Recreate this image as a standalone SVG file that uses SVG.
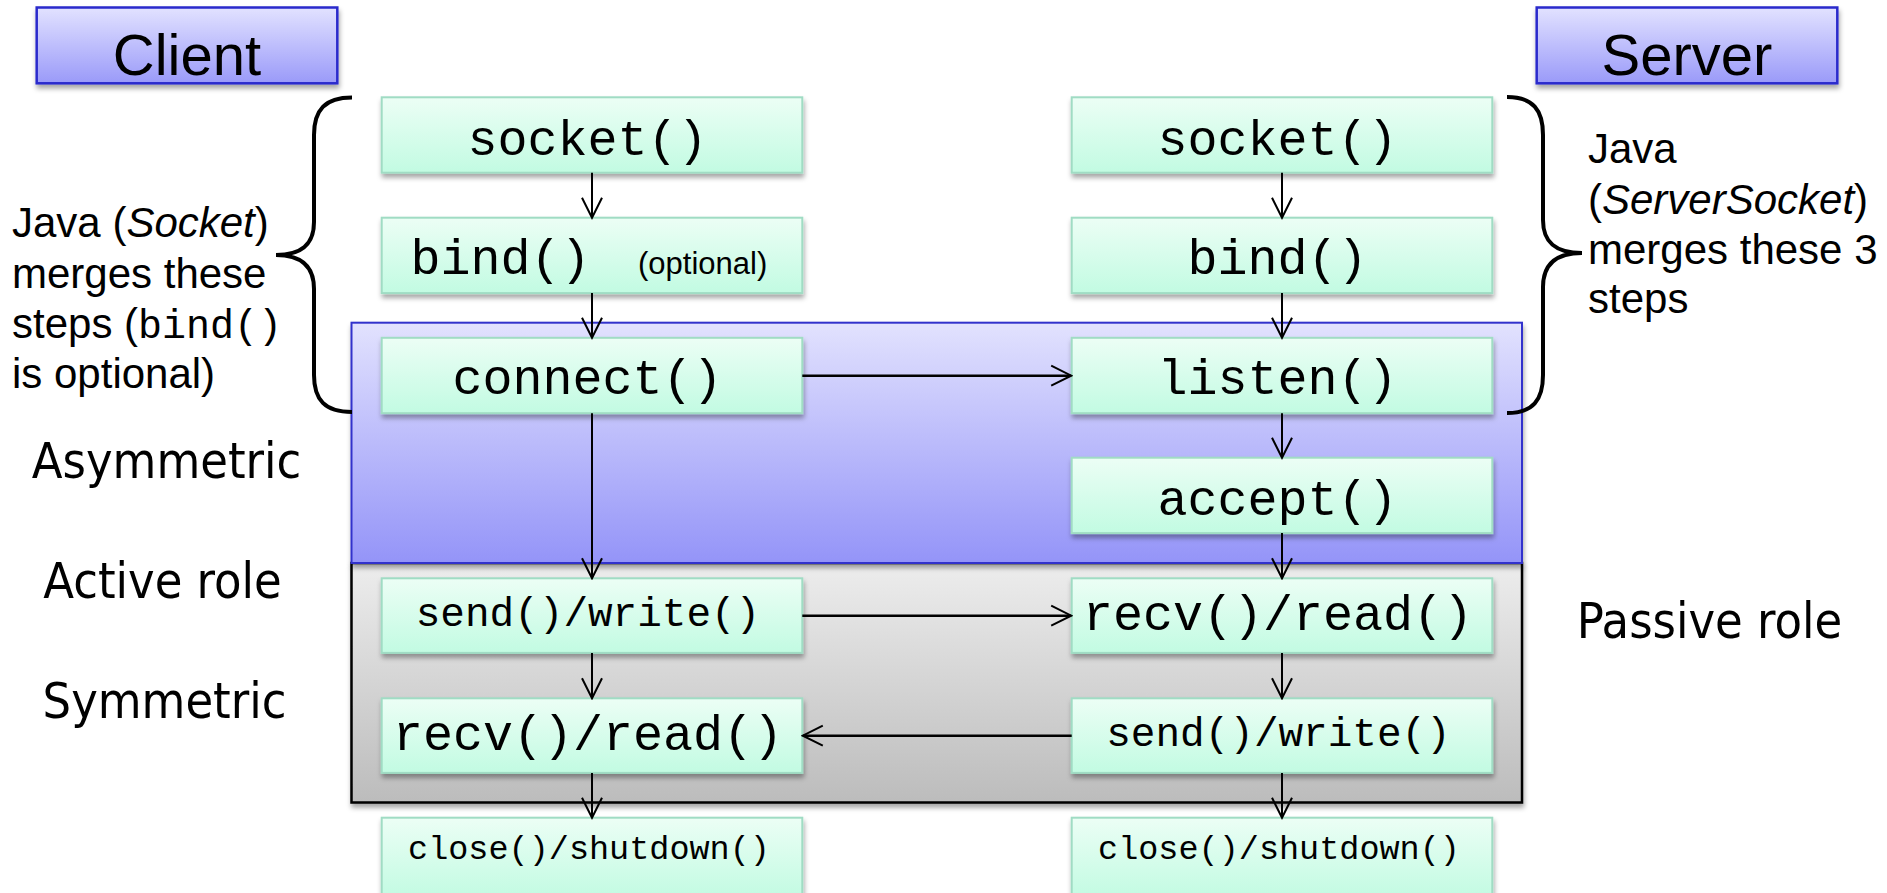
<svg xmlns="http://www.w3.org/2000/svg" width="1887" height="893" viewBox="0 0 1887 893">
  <defs>
    <linearGradient id="gGreen" x1="0" y1="0" x2="0" y2="1">
      <stop offset="0" stop-color="#ecfef5"/>
      <stop offset="1" stop-color="#c2fbe2"/>
    </linearGradient>
    <linearGradient id="gHead" x1="0" y1="0" x2="0" y2="1">
      <stop offset="0" stop-color="#e2e2ff"/>
      <stop offset="1" stop-color="#9a9af9"/>
    </linearGradient>
    <linearGradient id="gBlue" x1="0" y1="0" x2="0" y2="1">
      <stop offset="0" stop-color="#e2e2fe"/>
      <stop offset="1" stop-color="#9494f8"/>
    </linearGradient>
    <linearGradient id="gGray" x1="0" y1="0" x2="0" y2="1">
      <stop offset="0" stop-color="#ededed"/>
      <stop offset="1" stop-color="#bcbcbc"/>
    </linearGradient>
    <filter id="shadow" x="-5%" y="-10%" width="110%" height="130%">
      <feDropShadow dx="1" dy="4" stdDeviation="2.5" flood-color="#000" flood-opacity="0.35"/>
    </filter>
    <marker id="arr" viewBox="-22 -12 24 24" markerWidth="24" markerHeight="24" refX="0" refY="0" orient="auto" markerUnits="userSpaceOnUse">
      <path d="M-20,-10 L0,0 L-20,10" fill="none" stroke="#000" stroke-width="2"/>
    </marker>
  </defs>
  <style>
    .step { fill: url(#gGreen); stroke: #a0dcc4; stroke-width: 2; filter: url(#shadow); }
    .head { fill: url(#gHead); stroke: #2a2acc; stroke-width: 2.5; filter: url(#shadow); }
    .mono { font-family: "Liberation Mono", "Courier New", monospace; fill: #000; text-anchor: middle; }
    .sans { font-family: "Liberation Sans", Arial, sans-serif; fill: #000; }
    .tah { font-family: "DejaVu Sans Condensed", "DejaVu Sans", "Noto Sans", sans-serif; font-stretch: condensed; fill: #000; font-size: 50px; }
    .brace { fill: none; stroke: #000; stroke-width: 4; }
    .conn line { stroke: #000; stroke-width: 2; marker-end: url(#arr); }
    .conn line.h { stroke-width: 2.6; }
  </style>

  <rect width="1887" height="893" fill="#fff"/>

  <!-- phase regions -->
  <g id="symmetric-region">
    <rect x="351.5" y="563" width="1170.5" height="239.5" fill="url(#gGray)" stroke="#000" stroke-width="2.5" filter="url(#shadow)"/>
  </g>
  <g id="asymmetric-region">
    <rect x="351.5" y="322.7" width="1170.5" height="240.3" fill="url(#gBlue)" stroke="#3333cc" stroke-width="2" filter="url(#shadow)"/>
  </g>

  <!-- braces grouping the setup steps -->
  <g id="client-brace">
    <path class="brace" d="M352,97.5 C325,97.5 314,110 314,135 L314,222 C314,245 301,255 276,255 C301,255 314,266 314,289 L314,375 C314,400 325,412 352,412"/>
  </g>
  <g id="server-brace">
    <path class="brace" d="M1507,97 C1533,97 1543,110 1543,135 L1543,220 C1543,243 1556,253 1582,253 C1556,253 1543,264 1543,287 L1543,375 C1543,400 1533,413 1507,413"/>
  </g>

  <!-- column headers -->
  <g id="client-header">
    <rect class="head" x="36.7" y="7.5" width="300.6" height="75.8"/>
    <text class="sans" x="187" y="75" font-size="58" text-anchor="middle">Client</text>
  </g>
  <g id="server-header">
    <rect class="head" x="1536.7" y="7.5" width="300.6" height="75.8"/>
    <text class="sans" x="1687" y="75" font-size="58" text-anchor="middle">Server</text>
  </g>

  <!-- client steps -->
  <g id="c-socket">
    <rect class="step" x="381.7" y="97.3" width="420.6" height="75.4"/>
    <text class="mono" x="587.5" y="155" font-size="50">socket()</text>
  </g>
  <g id="c-bind">
    <rect class="step" x="381.7" y="217.7" width="420.6" height="75.4"/>
    <text class="mono" x="500.5" y="274" font-size="50">bind()</text>
    <text class="sans" x="638" y="274.3" font-size="31">(optional)</text>
  </g>
  <g id="c-connect">
    <rect class="step" x="381.7" y="337.8" width="420.6" height="75.4"/>
    <text class="mono" x="587.5" y="394" font-size="50">connect()</text>
  </g>
  <g id="c-send">
    <rect class="step" x="381.7" y="578.3" width="420.6" height="74.6"/>
    <text class="mono" x="588" y="625.7" font-size="41">send()/write()</text>
  </g>
  <g id="c-recv">
    <rect class="step" x="381.7" y="698.3" width="420.6" height="74.6"/>
    <text class="mono" x="588" y="750" font-size="50">recv()/read()</text>
  </g>
  <g id="c-close">
    <rect class="step" x="381.7" y="817.7" width="420.6" height="80"/>
    <text class="mono" x="589" y="858.5" font-size="33.5">close()/shutdown()</text>
  </g>

  <!-- server steps -->
  <g id="s-socket">
    <rect class="step" x="1071.7" y="97.3" width="420.6" height="75.4"/>
    <text class="mono" x="1277.5" y="155" font-size="50">socket()</text>
  </g>
  <g id="s-bind">
    <rect class="step" x="1071.7" y="217.7" width="420.6" height="75.4"/>
    <text class="mono" x="1277.5" y="274" font-size="50">bind()</text>
  </g>
  <g id="s-listen">
    <rect class="step" x="1071.7" y="337.8" width="420.6" height="75.4"/>
    <text class="mono" x="1277.5" y="394" font-size="50">listen()</text>
  </g>
  <g id="s-accept">
    <rect class="step" x="1071.7" y="457.7" width="420.6" height="75.4"/>
    <text class="mono" x="1277.5" y="515" font-size="50">accept()</text>
  </g>
  <g id="s-recv">
    <rect class="step" x="1071.7" y="578.3" width="420.6" height="74.6"/>
    <text class="mono" x="1278" y="630" font-size="50">recv()/read()</text>
  </g>
  <g id="s-send">
    <rect class="step" x="1071.7" y="698.3" width="420.6" height="74.6"/>
    <text class="mono" x="1278.5" y="745.7" font-size="41">send()/write()</text>
  </g>
  <g id="s-close">
    <rect class="step" x="1071.7" y="817.7" width="420.6" height="80"/>
    <text class="mono" x="1279" y="859" font-size="33.5">close()/shutdown()</text>
  </g>

  <!-- connectors -->
  <g id="connectors" class="conn">
    <line x1="592" y1="172.7" x2="592" y2="217.7"/>
    <line x1="592" y1="293" x2="592" y2="337.7"/>
    <line x1="592" y1="413.3" x2="592" y2="578.3"/>
    <line x1="592" y1="653" x2="592" y2="698.3"/>
    <line x1="592" y1="773" x2="592" y2="817.7"/>
    <line x1="1282" y1="172.7" x2="1282" y2="217.7"/>
    <line x1="1282" y1="293" x2="1282" y2="337.7"/>
    <line x1="1282" y1="413.3" x2="1282" y2="457.7"/>
    <line x1="1282" y1="533" x2="1282" y2="578.3"/>
    <line x1="1282" y1="653" x2="1282" y2="698.3"/>
    <line x1="1282" y1="773" x2="1282" y2="817.7"/>
    <line class="h" x1="802.3" y1="375.7" x2="1071.2" y2="375.7"/>
    <line class="h" x1="802.3" y1="615.7" x2="1071.2" y2="615.7"/>
    <line class="h" x1="1071.7" y1="735.7" x2="802.8" y2="735.7"/>
  </g>

  <!-- annotations -->
  <g id="client-note" class="sans" font-size="42">
    <text x="12" y="237">Java (<tspan font-style="italic">Socket</tspan>)</text>
    <text x="12" y="287.5">merges these</text>
    <text x="12" y="337.5">steps (<tspan font-family="Liberation Mono, Courier New, monospace" font-size="40">bind()</tspan></text>
    <text x="12" y="388">is optional)</text>
  </g>
  <g id="server-note" class="sans" font-size="42">
    <text x="1588" y="163">Java</text>
    <text x="1588" y="214">(<tspan font-style="italic">ServerSocket</tspan>)</text>
    <text x="1588" y="264">merges these 3</text>
    <text x="1588" y="313">steps</text>
  </g>
  <g id="phase-labels" class="tah">
    <text x="166.5" y="478" text-anchor="middle">Asymmetric</text>
    <text x="162.5" y="598" text-anchor="middle">Active role</text>
    <text x="164.5" y="717.7" text-anchor="middle">Symmetric</text>
    <text x="1576.7" y="638">Passive role</text>
  </g>
</svg>
